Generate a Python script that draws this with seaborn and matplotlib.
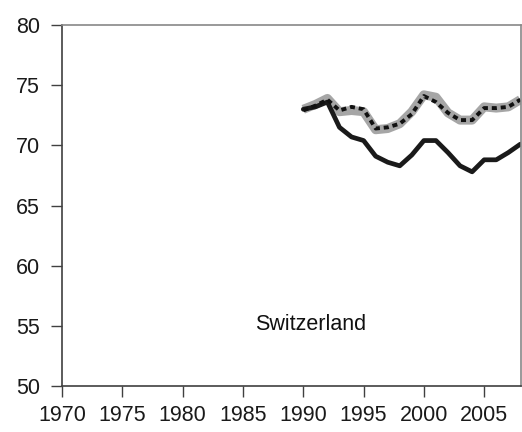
import matplotlib
matplotlib.use("Agg")
import matplotlib.pyplot as plt
import seaborn as sns
import pandas as pd

years = list(range(1990, 2009))
solid_black = [73.0, 73.2, 73.6, 71.5, 70.7, 70.4, 69.1, 68.6, 68.3, 69.2, 70.4,
               70.4, 69.4, 68.3, 67.8, 68.8, 68.8, 69.4, 70.1]
grey_band = [73.0, 73.4, 73.9, 72.8, 72.9, 72.8, 71.3, 71.4, 71.8, 72.8, 74.2,
             74.0, 72.7, 72.1, 72.1, 73.2, 73.1, 73.2, 73.8]
dotted_black = [72.9, 73.3, 73.8, 72.9, 73.2, 73.0, 71.4, 71.5, 71.8, 72.6, 74.1,
                73.6, 72.7, 72.1, 72.1, 73.1, 73.1, 73.2, 73.8]
x_ticks = [1970, 1975, 1980, 1985, 1990, 1995, 2000, 2005]
y_ticks = [50, 55, 60, 65, 70, 75, 80]
label = "Switzerland"

df = pd.DataFrame({"year": years, "solid": solid_black,
                   "grey": grey_band, "dotted": dotted_black})

sns.set_theme(style="white")
plt.rcParams["font.family"] = ["Liberation Sans", "DejaVu Sans"]

fig = plt.figure(figsize=(5.22, 4.32), dpi=100)
ax = fig.add_axes([0.119, 0.1065, 0.879, 0.8355])

# grey band underneath, then the two black lines
sns.lineplot(data=df, x="year", y="grey", ax=ax, color="#a6a6a6", linewidth=6.5,
             solid_capstyle="butt")
sns.lineplot(data=df, x="year", y="solid", ax=ax, color="#1a1a1a", linewidth=3.4)
sns.lineplot(data=df, x="year", y="dotted", ax=ax, color="#111111", linewidth=2.8,
             linestyle=(0, (1.3, 1.0)))

ax.text(1990.6, 55.1, label, fontsize=15.5, ha="center", va="center", color="#111111")

ax.set_xlim(1970, 2008.05)
ax.set_ylim(50, 80)
ax.set_xticks(x_ticks)
ax.set_yticks(y_ticks)
ax.set_xlabel("")
ax.set_ylabel("")
ax.tick_params(axis="both", direction="out", length=8, width=1, color="#404040",
               labelsize=15.5, labelcolor="#1a1a1a")
ax.tick_params(axis="x", bottom=True, pad=6)
ax.tick_params(axis="y", left=True, pad=8)

for side in ["left", "bottom"]:
    ax.spines[side].set_color("#404040")
    ax.spines[side].set_linewidth(1.2)
for side in ["top", "right"]:
    ax.spines[side].set_color("#888888")
    ax.spines[side].set_linewidth(1.2)

fig.savefig("out.png", dpi=100)
